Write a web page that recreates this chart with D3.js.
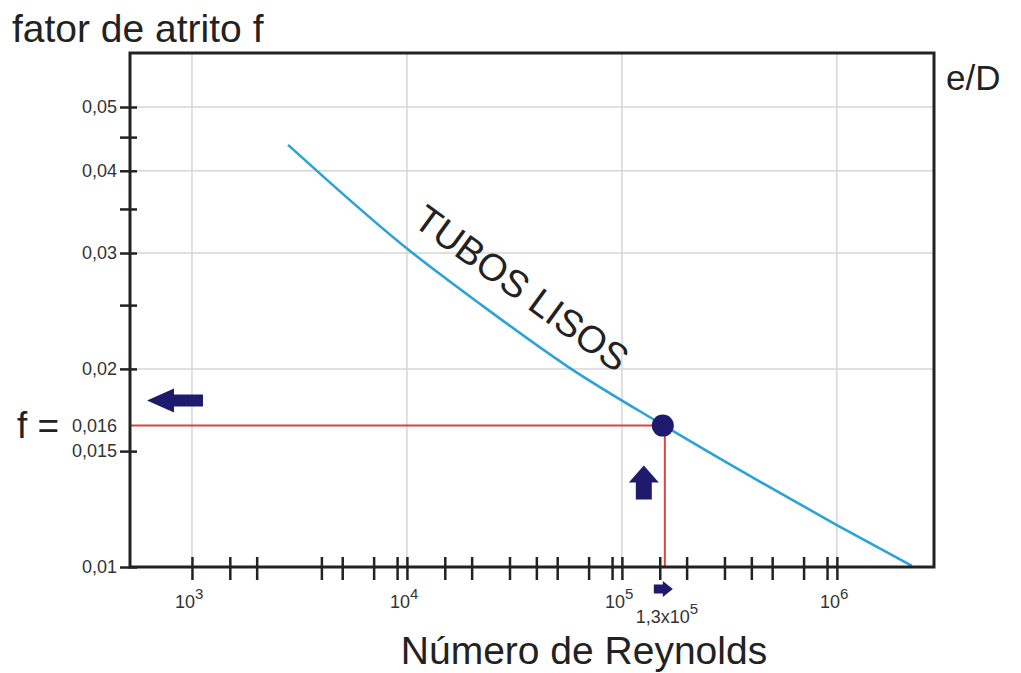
<!DOCTYPE html>
<html>
<head>
<meta charset="utf-8">
<script src="https://cdn.jsdelivr.net/npm/d3@7"></script>
<style>
  body { margin: 0; background: #fff; }
  svg { display: block; font-family: "Liberation Sans", Arial, sans-serif; }
</style>
</head>
<body>
<svg id="chart" width="1021" height="673"></svg>
<script>
// curve "tubos lisos" (Re, f)
var curve_re = [2800, 10100, 21900, 55500, 155000, 394000, 1000000, 2230000];
var curve_f = [0.0438, 0.0304, 0.0251, 0.0202, 0.01644, 0.01375, 0.01158, 0.01004];

// reading point
var point_re = 155000;
var point_f = 0.0164;

var x_ticks = [1000, 1500, 2000, 4000, 5000, 7000, 9000, 10000, 15000, 20000, 30000, 40000, 50000, 70000, 90000,
               100000, 150000, 200000, 300000, 400000, 500000, 700000, 900000, 1000000];
var x_grid = [1000, 10000, 100000, 1000000];
var x_labels = [[1000, "3"], [10000, "4"], [100000, "5"], [1000000, "6"]];

var y_ticks = [0.01, 0.015, 0.02, 0.025, 0.03, 0.035, 0.04, 0.045, 0.05];
var y_grid = [0.02, 0.03, 0.04, 0.05];
var y_labels = [[0.01, "0,01"], [0.015, "0,015"], [0.02, "0,02"], [0.03, "0,03"], [0.04, "0,04"], [0.05, "0,05"]];

function draw_chart()
{
    var p_left = 130, p_right = 934, p_top = 53, p_bottom = 567;

    var svg = d3.select("#chart");

    var x = d3.scaleLog().domain([515, 2830000]).range([p_left, p_right]);
    var y = d3.scaleLog().domain([0.01, 0.0604]).range([p_bottom, p_top]);

    // grid
    svg.append("g").selectAll("line").data(x_grid).enter().append("line")
        .attr("x1", function(d) { return x(d); }).attr("x2", function(d) { return x(d); })
        .attr("y1", p_top).attr("y2", p_bottom)
        .attr("stroke", "#d6d6d6").attr("stroke-width", 1.5);

    svg.append("g").selectAll("line").data(y_grid).enter().append("line")
        .attr("x1", p_left).attr("x2", p_right)
        .attr("y1", function(d) { return y(d); }).attr("y2", function(d) { return y(d); })
        .attr("stroke", "#d6d6d6").attr("stroke-width", 1.5);

    // red reading lines
    svg.append("path")
        .attr("d", "M" + p_left + "," + y(point_f) + "H" + (x(point_re) + 2) + "V" + p_bottom)
        .attr("fill", "none").attr("stroke", "#d8463f").attr("stroke-width", 2);

    // curve
    var line = d3.line()
        .x(function(d) { return x(d[0]); })
        .y(function(d) { return y(d[1]); })
        .curve(d3.curveMonotoneX);

    svg.append("path")
        .datum(d3.zip(curve_re, curve_f))
        .attr("d", line)
        .attr("fill", "none").attr("stroke", "#2ba3d9").attr("stroke-width", 2.6);

    // frame
    svg.append("rect")
        .attr("x", p_left).attr("y", p_top)
        .attr("width", p_right - p_left).attr("height", p_bottom - p_top)
        .attr("fill", "none").attr("stroke", "#222").attr("stroke-width", 3);

    // x axis ticks
    var x_axis = d3.axisBottom(x).tickValues(x_ticks).tickFormat("").tickSizeOuter(0);
    var gx = svg.append("g").attr("transform", "translate(0," + p_bottom + ")").call(x_axis);
    gx.select(".domain").remove();
    gx.selectAll(".tick line").attr("y1", -10).attr("y2", 13).attr("stroke", "#222").attr("stroke-width", 2.5);

    // y axis ticks
    var y_axis = d3.axisLeft(y).tickValues(y_ticks).tickFormat("").tickSizeOuter(0);
    var gy = svg.append("g").attr("transform", "translate(" + p_left + ",0)").call(y_axis);
    gy.select(".domain").remove();
    gy.selectAll(".tick line").attr("x1", -10).attr("x2", 7).attr("stroke", "#222").attr("stroke-width", 2.5);

    // y labels
    svg.append("g").selectAll("text").data(y_labels).enter().append("text")
        .attr("x", p_left - 13)
        .attr("y", function(d) { return y(d[0]) + 6; })
        .attr("text-anchor", "end")
        .attr("font-size", 18).attr("fill", "#333")
        .text(function(d) { return d[1]; });

    svg.append("text").attr("x", p_left - 13).attr("y", y(point_f) + 6)
        .attr("text-anchor", "end").attr("font-size", 18).attr("fill", "#333").text("0,016");

    // x labels with superscripts
    var xl = svg.append("g").selectAll("text").data(x_labels).enter().append("text")
        .attr("x", function(d) { return x(d[0]) - 17; })
        .attr("y", p_bottom + 41)
        .attr("font-size", 18).attr("fill", "#333");
    xl.append("tspan").text("10");
    xl.append("tspan").attr("dy", -9).attr("font-size", 15).text(function(d) { return d[1]; });

    var rl = svg.append("text").attr("x", x(point_re) - 27).attr("y", p_bottom + 56)
        .attr("font-size", 18).attr("fill", "#333");
    rl.append("tspan").text("1,3x10");
    rl.append("tspan").attr("dy", -9).attr("font-size", 15).text("5");

    // marker dot
    svg.append("circle").attr("cx", x(point_re)).attr("cy", y(point_f)).attr("r", 11).attr("fill", "#1e1b6e");

    // arrows
    var arrow_col = "#1e1b6e";
    var ax = p_left + 17, ay = y(point_f) - 25;
    svg.append("path")
        .attr("d", "M" + ax + "," + ay + "l27,-12v6h29v12h-29v6z")
        .attr("fill", arrow_col);

    var ux = x(point_re) - 19, uy = y(point_f) + 40;
    svg.append("path")
        .attr("d", "M" + ux + "," + uy + "l15,17h-7v17h-16v-17h-7z")
        .attr("fill", arrow_col);

    var rx = x(point_re) - 9, ry = p_bottom + 22;
    svg.append("path")
        .attr("d", "M" + rx + "," + (ry - 4.5) + "h9v-3.5l10,8l-10,8v-3.5h-9z")
        .attr("fill", arrow_col);

    // texts
    svg.append("text").attr("x", 12).attr("y", 42).attr("font-size", 39).attr("fill", "#222").text("fator de atrito f");
    svg.append("text").attr("x", 946).attr("y", 90).attr("font-size", 35).attr("fill", "#222").text("e/D");
    svg.append("text").attr("x", 17).attr("y", y(point_f) + 12).attr("font-size", 37).attr("fill", "#222").text("f =");
    svg.append("text").attr("x", 584).attr("y", 664).attr("text-anchor", "middle").attr("font-size", 39).attr("fill", "#222").text("Número de Reynolds");
    svg.append("text")
        .attr("transform", "translate(514,299) rotate(36)")
        .attr("text-anchor", "middle")
        .attr("font-size", 38).attr("fill", "#222")
        .text("TUBOS LISOS");
}

draw_chart();
</script>
</body>
</html>
